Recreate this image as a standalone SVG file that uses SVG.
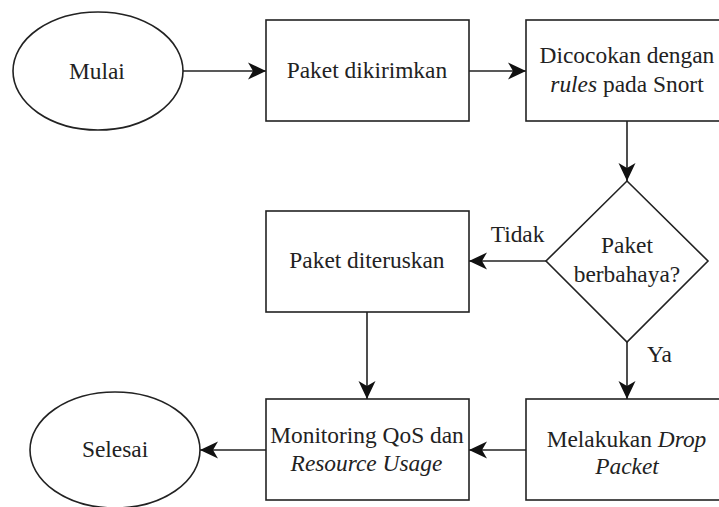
<svg xmlns="http://www.w3.org/2000/svg" width="719" height="507" viewBox="0 0 719 507">
<style>
.s{fill:#fff;stroke:#222;stroke-width:1.6}
.c{fill:none;stroke:#222;stroke-width:1.6}
</style>
<defs>
<marker id="arr" markerUnits="userSpaceOnUse" markerWidth="22" markerHeight="22" viewBox="-19 -11 22 22" refX="0" refY="0" orient="auto">
<path d="M0,0 L-18,-8.5 L-13,0 L-18,8.5 Z" fill="#111"/>
</marker>
</defs>
<rect width="719" height="507" fill="#fff"/>
<g id="connectors">
<line class="c" x1="183" y1="71" x2="266" y2="71" marker-end="url(#arr)"/>
<line class="c" x1="469" y1="71" x2="526" y2="71" marker-end="url(#arr)"/>
<line class="c" x1="627" y1="121" x2="627" y2="181" marker-end="url(#arr)"/>
<line class="c" x1="546" y1="261" x2="469" y2="261" marker-end="url(#arr)"/>
<line class="c" x1="627" y1="342" x2="627" y2="399" marker-end="url(#arr)"/>
<line class="c" x1="367" y1="312" x2="367" y2="399" marker-end="url(#arr)"/>
<line class="c" x1="526" y1="450" x2="469" y2="450" marker-end="url(#arr)"/>
<line class="c" x1="266" y1="450" x2="200" y2="450" marker-end="url(#arr)"/>
<text x="490.7" y="242" font-family="'Liberation Serif', 'Times New Roman', serif" font-size="23.4" fill="#222">Tidak</text>
<text x="647" y="362" font-family="'Liberation Serif', 'Times New Roman', serif" font-size="23.4" fill="#222">Ya</text>
</g>
<g id="mulai">
<ellipse class="s" cx="98" cy="71" rx="85" ry="59"/>
<text x="69" y="79" font-family="'Liberation Serif', 'Times New Roman', serif" font-size="23.4" fill="#222">Mulai</text>
</g>
<g id="paket-dikirimkan">
<rect class="s" x="266" y="20" width="203" height="101"/>
<text x="286.7" y="78" font-family="'Liberation Serif', 'Times New Roman', serif" font-size="23.4" fill="#222">Paket dikirimkan</text>
</g>
<g id="dicocokan">
<rect class="s" x="526" y="20" width="203" height="101"/>
<text x="539.6" y="63" font-family="'Liberation Serif', 'Times New Roman', serif" font-size="23.4" fill="#222">Dicocokan dengan</text>
<text x="550.3" y="92" font-family="'Liberation Serif', 'Times New Roman', serif" font-size="23.4" fill="#222"><tspan font-style="italic">rules</tspan> pada Snort</text>
</g>
<g id="berbahaya">
<polygon class="s" points="627,181 708,261 627,342 546,261"/>
<text x="601" y="253" font-family="'Liberation Serif', 'Times New Roman', serif" font-size="23.4" fill="#222">Paket</text>
<text x="573.7" y="282" font-family="'Liberation Serif', 'Times New Roman', serif" font-size="23.4" fill="#222">berbahaya?</text>
</g>
<g id="paket-diteruskan">
<rect class="s" x="266" y="211" width="203" height="101"/>
<text x="289.3" y="268" font-family="'Liberation Serif', 'Times New Roman', serif" font-size="23.4" fill="#222">Paket diteruskan</text>
</g>
<g id="monitoring">
<rect class="s" x="266" y="399" width="203" height="101"/>
<text x="270.2" y="443" font-family="'Liberation Serif', 'Times New Roman', serif" font-size="23.4" fill="#222">Monitoring QoS dan</text>
<text x="290.6" y="471" font-family="'Liberation Serif', 'Times New Roman', serif" font-size="23.4" fill="#222" font-style="italic">Resource Usage</text>
</g>
<g id="drop">
<rect class="s" x="526" y="399" width="203" height="101"/>
<text x="546.7" y="447" font-family="'Liberation Serif', 'Times New Roman', serif" font-size="23.4" fill="#222">Melakukan <tspan font-style="italic">Drop</tspan></text>
<text x="595.2" y="474" font-family="'Liberation Serif', 'Times New Roman', serif" font-size="23.4" fill="#222" font-style="italic">Packet</text>
</g>
<g id="selesai">
<ellipse class="s" cx="115" cy="450" rx="85" ry="58"/>
<text x="81.9" y="457" font-family="'Liberation Serif', 'Times New Roman', serif" font-size="23.4" fill="#222">Selesai</text>
</g>
</svg>
